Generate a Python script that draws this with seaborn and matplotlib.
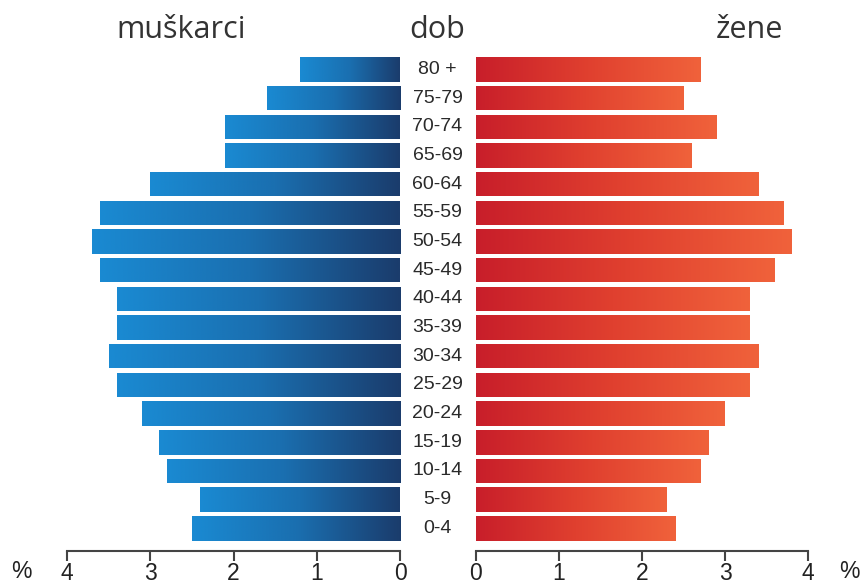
import numpy as np
import pandas as pd
import matplotlib
matplotlib.use('Agg')
import matplotlib.pyplot as plt
from matplotlib.colors import LinearSegmentedColormap
import seaborn as sns

dob = ['80 +', '75-79', '70-74', '65-69', '60-64', '55-59', '50-54', '45-49',
       '40-44', '35-39', '30-34', '25-29', '20-24', '15-19', '10-14', '5-9', '0-4']
muskarci = [1.2, 1.6, 2.1, 2.1, 3.0, 3.6, 3.7, 3.6, 3.4, 3.4, 3.5, 3.4, 3.1, 2.9, 2.8, 2.4, 2.5]
zene = [2.7, 2.5, 2.9, 2.6, 3.4, 3.7, 3.8, 3.6, 3.3, 3.3, 3.4, 3.3, 3.0, 2.8, 2.7, 2.3, 2.4]
x_ticks = [0, 1, 2, 3, 4]

df = pd.DataFrame({'dob': dob, 'muskarci': muskarci, 'zene': zene})

sns.set_style('white')
plt.rcParams['font.family'] = ['Liberation Sans', 'DejaVu Sans']

# gradient goes from the centre (value 0) outwards
blue = LinearSegmentedColormap.from_list('blue', ['#1b3c6c', '#1a6fb0', '#1a8ad2'])
red = LinearSegmentedColormap.from_list('red', ['#c81e2a', '#e0402f', '#f0623b'])


def gradient_bars(ax, cmap):
    grad = np.linspace(0, 1, 256).reshape(1, -1)
    for p in ax.patches:
        x0, y0 = p.get_x(), p.get_y()
        w, h = p.get_width(), p.get_height()
        im = ax.imshow(grad, cmap=cmap, extent=[x0, x0 + w, y0 + h, y0],
                       aspect='auto', zorder=2, interpolation='bilinear')
        im.set_clip_path(p)
        p.set_facecolor('none')
        p.set_linewidth(0)


fig = plt.figure(figsize=(8.66, 5.85), dpi=100)
bottom = 1 - 551 / 585
height = (551 - 55.2) / 585
ax_l = fig.add_axes([67 / 866, bottom, 333 / 866, height])
ax_r = fig.add_axes([476 / 866, bottom, 332 / 866, height])

sns.barplot(data=df, x='muskarci', y='dob', orient='h', ax=ax_l, width=0.85, color='#1a6fb0')
sns.barplot(data=df, x='zene', y='dob', orient='h', ax=ax_r, width=0.85, color='#e0402f')
gradient_bars(ax_l, blue)
gradient_bars(ax_r, red)

ax_l.set_xlim(4, 0)
ax_r.set_xlim(0, 4)
for ax in (ax_l, ax_r):
    ax.set_ylim(len(dob) - 0.21, -0.5)
    ax.set_xticks(x_ticks)
    ax.set_xticklabels([str(t) for t in x_ticks])
    ax.set_yticks([])
    ax.set_xlabel('')
    ax.set_ylabel('')
    sns.despine(ax=ax, left=True)
    ax.spines['bottom'].set_color('#444444')
    ax.spines['bottom'].set_linewidth(1.5)
    ax.tick_params(axis='x', bottom=True, direction='out', length=7, width=1.5,
                   color='#444444', pad=1, labelsize=16.5, labelcolor='#222222')
    ax.set_facecolor('none')

# age group labels in the gap between the two halves
for i, a in enumerate(dob):
    ax_l.text(-0.45, i, a, ha='center', va='center', fontsize=14,
              color='#2a2a2a', clip_on=False)

head = dict(ha='center', va='center', fontsize=22, color='#333333', family='Open Sans')
fig.text(181 / 866, 1 - 30 / 585, 'muškarci', **head)
fig.text(437 / 866, 1 - 30 / 585, 'dob', **head)
fig.text(749 / 866, 1 - 30 / 585, 'žene', **head)

fig.text(21 / 866, 1 - 572 / 585, '%', ha='center', va='center', fontsize=16.5, color='#222222')
fig.text(849 / 866, 1 - 572 / 585, '%', ha='center', va='center', fontsize=16.5, color='#222222')

fig.savefig('out.png', dpi=100)
